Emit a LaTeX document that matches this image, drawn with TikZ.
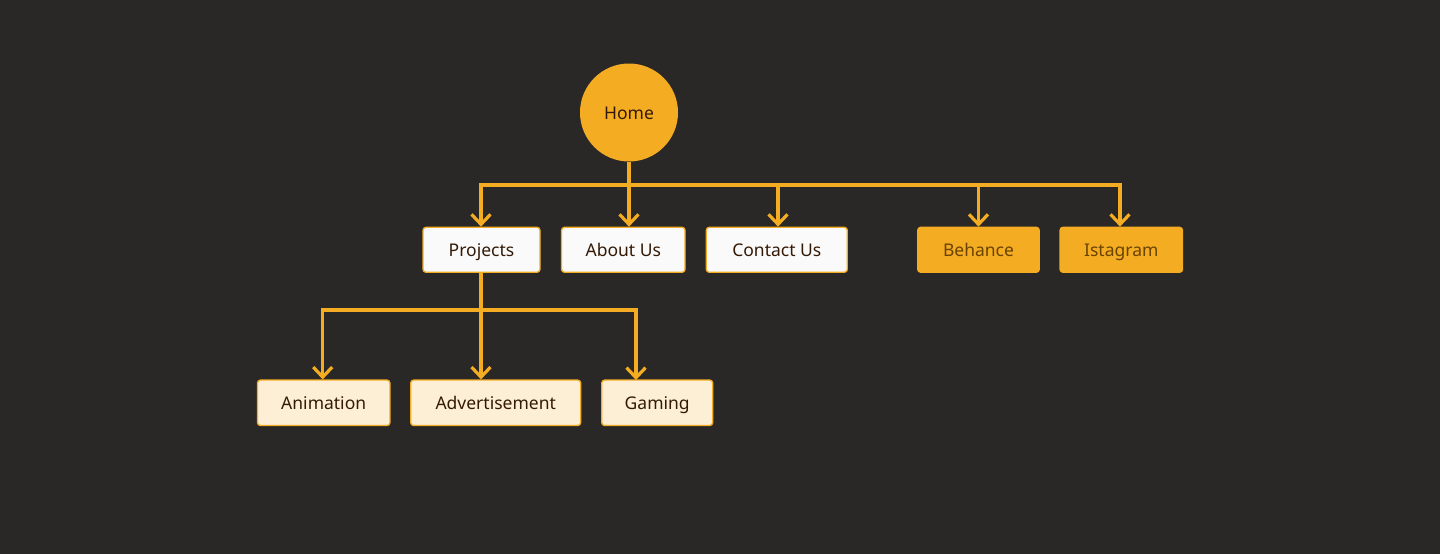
\documentclass[tikz,border=0pt]{standalone}
\usepackage{fontspec}
\setmainfont{Noto Sans}
\usetikzlibrary{arrows.meta}
\definecolor{bg}{HTML}{2A2826}
\definecolor{org}{HTML}{F4AC22}
\definecolor{wht}{HTML}{FAFAFA}
\definecolor{cream}{HTML}{FDEFD6}
\definecolor{txt}{HTML}{341A06}
\definecolor{otxt}{HTML}{6A4300}
\tikzset{
  box/.style={draw=org, line width=1.3pt, rounded corners=3pt, inner sep=0pt, font=\fontsize{17.5}{20}\selectfont, text=txt, text height=14pt, text depth=0pt},
  wbox/.style={box, fill=wht},
  cbox/.style={box, fill=cream},
  obox/.style={box, fill=org, text=otxt},
  conn/.style={draw=org, line width=3.2pt, -{Straight Barb[length=10pt,width=19pt,line width=3.2pt]}},
  plain/.style={draw=org, line width=3.2pt}
}
\begin{document}
\begin{tikzpicture}[x=1pt,y=-1pt]
\fill[bg] (0,0) rectangle (1440,554);
\useasboundingbox (0,0) rectangle (1440,554);
\node[circle, fill=org, minimum size=98pt, inner sep=0pt, text=txt, font=\fontsize{17.5}{20}\selectfont, text height=13.5pt, text depth=0pt] (home) at (629,112.5) {Home};
\node[wbox, minimum width=117pt, minimum height=45pt] (proj) at (481.5,249.8) {Projects};
\node[wbox, minimum width=123.5pt, minimum height=45pt] (about) at (623.3,249.8) {About Us};
\node[wbox, minimum width=141pt, minimum height=45pt] (contact) at (776.8,249.8) {Contact Us};
\node[obox, minimum width=121.5pt, minimum height=45pt] (beh) at (978.5,249.8) {Behance};
\node[obox, minimum width=122.5pt, minimum height=45pt] (ist) at (1121.3,249.8) {Istagram};
\node[cbox, minimum width=132.5pt, minimum height=45.5pt] (anim) at (323.7,402.8) {Animation};
\node[cbox, minimum width=170pt, minimum height=45.5pt] (adv) at (495.7,402.8) {Advertisement};
\node[cbox, minimum width=111pt, minimum height=45.5pt] (gam) at (657.2,402.8) {Gaming};
\coordinate (bus) at (629,185);
\coordinate (bus2) at (481,310);
\coordinate (gamin) at (636,380);
% top level
\draw[plain] (home.south) -- (bus);
\draw[conn] (bus) -| ([xshift=-0.5pt]proj.north);
\draw[conn] (home.south) -- (home.south |- about.north);
\draw[conn] (bus) -| ([xshift=1.2pt]contact.north);
\draw[conn] (bus) -| (beh.north);
\draw[conn] (bus) -| ([xshift=-1.3pt]ist.north);
% second level
\draw[conn] ([xshift=-0.5pt]proj.south) -- ([xshift=-0.5pt]proj.south |- adv.north);
\draw[conn] (bus2) -| ([xshift=-1pt]anim.north);
\draw[conn] (bus2) -| (gamin);
\end{tikzpicture}
\end{document}
